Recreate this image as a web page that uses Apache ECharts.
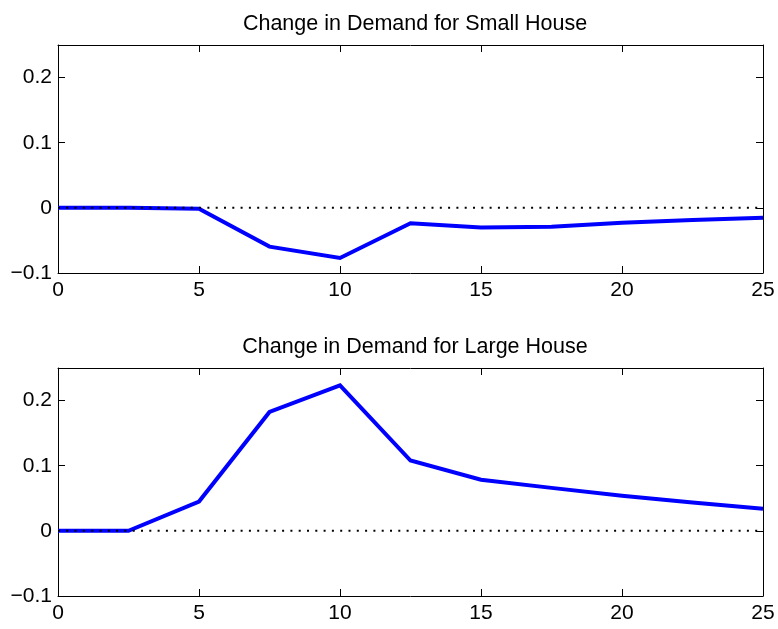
<!DOCTYPE html>
<html>
<head>
<meta charset="utf-8">
<script src="https://cdn.jsdelivr.net/npm/echarts@6/dist/echarts.min.js"></script>
<style>
html,body{margin:0;padding:0;background:#fff;}
#c{width:778px;height:629px;}
</style>
</head>
<body>
<div id="c"></div>
<script>
var periods = [0, 2.5, 5, 7.5, 10, 12.5, 15, 17.5, 20, 22.5, 25];
var smallHouse = [0, 0, -0.0015, -0.0595, -0.077, -0.0237, -0.0303, -0.029, -0.023, -0.0185, -0.015];
var largeHouse = [0, 0, 0.045, 0.1825, 0.2235, 0.108, 0.0785, 0.066, 0.054, 0.0435, 0.034];
var titles = ['Change in Demand for Small House', 'Change in Demand for Large House'];
var xTicks = [0, 5, 10, 15, 20, 25];
var yTicks = [-0.1, 0, 0.1, 0.2];

var FONT = 'Liberation Sans, Arial, Helvetica, sans-serif';
var FS = 21;
var TFS = 21.5;

function pairs(xs, ys) { return xs.map(function (x, i) { return [x, ys[i]]; }); }

var grids = [
  { left: 58, top: 45, width: 705, height: 228 },
  { left: 58, top: 368, width: 705, height: 228 }
];

var xAxes = [], yAxes = [], series = [];
grids.forEach(function (g, gi) {
  [false, true].forEach(function (isTop) {
    xAxes.push({
      type: 'value', gridIndex: gi, min: 0, max: 25, interval: 5,
      position: isTop ? 'top' : 'bottom',
      axisLine: { show: true, onZero: false, lineStyle: { color: '#000', width: 1 } },
      axisTick: { show: true, inside: true, length: 7, lineStyle: { color: '#000', width: 1 } },
      axisLabel: { show: !isTop, color: '#000', fontSize: FS, fontFamily: FONT, margin: 7,
        formatter: function (v) { return xTicks.indexOf(v) >= 0 ? String(v) : ''; } },
      splitLine: { show: false }
    });
  });
  [false, true].forEach(function (isRight) {
    yAxes.push({
      type: 'value', gridIndex: gi, min: -0.1, max: 0.25, interval: 0.1,
      position: isRight ? 'right' : 'left',
      axisLine: { show: true, onZero: false, lineStyle: { color: '#000', width: 1 } },
      axisTick: { show: true, inside: true, length: 7, lineStyle: { color: '#000', width: 1 } },
      axisLabel: { show: !isRight, color: '#000', fontSize: FS, fontFamily: FONT, margin: 6,
        showMaxLabel: false,
        formatter: function (v) {
          var r = Math.round(v * 10) / 10;
          if (yTicks.indexOf(r) < 0 || v > 0.21) return '';
          if (r === 0) return '0';
          return (r < 0 ? '\u2212' : '') + Math.abs(r).toFixed(1);
        } },
      splitLine: { show: false }
    });
  });
});

[smallHouse, largeHouse].forEach(function (vals, gi) {
  series.push({
    type: 'line', xAxisIndex: gi * 2, yAxisIndex: gi * 2,
    data: pairs(periods, vals), symbol: 'none', silent: true,
    lineStyle: { color: '#0000ff', width: 4, join: 'miter' }, z: 2
  });
  series.push({
    type: 'line', xAxisIndex: gi * 2, yAxisIndex: gi * 2,
    data: [[periods[0], 0], [periods[periods.length - 1], 0]], symbol: 'none', silent: true,
    lineStyle: { color: '#000', width: 2, type: [2, 6.3] }, z: 3
  });
});

var chart = echarts.init(document.getElementById('c'));
chart.setOption({
  animation: false,
  backgroundColor: '#fff',
  title: [
    { text: titles[0], left: 410, top: 8, textAlign: 'center',
      textStyle: { color: '#000', fontSize: TFS, fontWeight: 'normal', fontFamily: FONT } },
    { text: titles[1], left: 410, top: 331, textAlign: 'center',
      textStyle: { color: '#000', fontSize: TFS, fontWeight: 'normal', fontFamily: FONT } }
  ],
  grid: grids,
  xAxis: xAxes,
  yAxis: yAxes,
  series: series
});
</script>
</body>
</html>
